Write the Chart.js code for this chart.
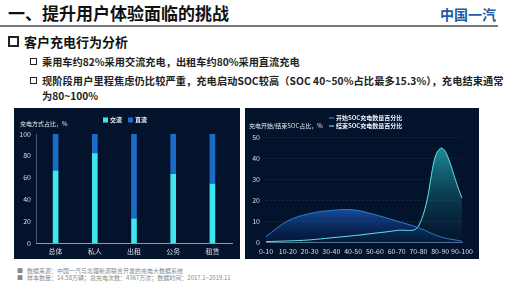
<!DOCTYPE html>
<html>
<head>
<meta charset="utf-8">
<script src="https://cdn.jsdelivr.net/npm/chart.js@4.4.1/dist/chart.umd.min.js"></script>
<style>
  body { margin: 0; width: 505px; height: 288px; background: #fff; position: relative; overflow: hidden;
         font-family: "Noto Sans CJK SC", "Noto Sans", sans-serif; }
  .abs { position: absolute; white-space: nowrap; line-height: 1; }
  .panel { position: absolute; background: #03132c; }
  .panel canvas { display: block; }
  .sq { position: absolute; border: 1.5px solid #222; box-sizing: border-box; }
</style>
</head>
<body>
<div class="abs" style="left:8px;top:4px;font-size:17px;font-weight:bold;color:#111;">一、提升用户体验面临的挑战</div>
<div class="abs" style="left:440px;top:7px;font-size:14px;font-weight:bold;color:#1d5ba8;">中国一汽</div>
<div style="position:absolute;left:0;top:25px;width:498px;height:1.5px;background:#7a7a7a;"></div>

<div class="sq" style="left:8px;top:36px;width:11px;height:11px;border-width:2px;"></div>
<div class="abs" style="left:24px;top:35px;font-size:13px;font-weight:bold;color:#111;">客户充电行为分析</div>

<div class="sq" style="left:30px;top:58px;width:7px;height:7px;"></div>
<div class="abs" style="left:42px;top:57px;font-size:10.2px;font-weight:bold;color:#222;">乘用车约82%采用交流充电，出租车约80%采用直流充电</div>
<div class="sq" style="left:30px;top:77px;width:7px;height:7px;"></div>
<div class="abs" style="left:42px;top:76px;font-size:10.2px;font-weight:bold;color:#222;letter-spacing:0.1px;">现阶段用户里程焦虑仍比较严重，充电启动SOC较高（SOC 40~50%占比最多15.3%），充电结束通常</div>
<div class="abs" style="left:42px;top:91px;font-size:10.2px;font-weight:bold;color:#222;">为80~100%</div>

<div class="panel" style="left:14px;top:108px;width:226px;height:151px;"><canvas id="chartLeft" width="226" height="151"></canvas></div>
<div class="panel" style="left:245px;top:108px;width:234px;height:151px;"><canvas id="chartRight" width="234" height="151"></canvas></div>

<div class="abs" style="left:17px;top:268px;font-size:6px;color:#888;">■&nbsp;&nbsp;&nbsp;数据来源：中国一汽与北理新源联合开发的充电大数据系统</div>
<div class="abs" style="left:17px;top:275px;font-size:6px;color:#888;">■&nbsp;&nbsp;&nbsp;样本数量：14.58万辆；总充电次数：4367万次；数据时间：2017.1~2019.11</div>

<script>
// left chart data - charging mode share
const userTypes = ['总体', '私人', '出租', '公务', '租赁'];
const acShare = [66, 82, 22, 63, 54];
const dcShare = [34, 18, 78, 37, 46];

// right chart data - SOC distribution
const socBins = ['0-10', '10-20', '20-30', '30-40', '40-50', '50-60', '60-70', '70-80', '80-90', '90-100'];
const startSoc = [2.6, 10, 13.5, 15, 15.3, 13, 10, 6.8, 2.5, 0.4];
const endSoc = [0.2, 0.5, 1, 2, 3, 4.2, 5.5, 7.5, 44.5, 21];

const tickColor = '#d8dee8';
const fontFam = '"Noto Sans CJK SC", "Noto Sans", sans-serif';

// draws axis name + legend at top of the panel
const headerPlugin = {
  id: 'header',
  afterDraw(chart, args, opts) {
    const ctx = chart.ctx;
    ctx.save();
    ctx.fillStyle = '#e6ebf2';
    ctx.font = '6px ' + fontFam;
    ctx.textBaseline = 'middle';
    ctx.textAlign = 'left';
    ctx.fillText(opts.yName, opts.yNameX, opts.yNameY);
    ctx.font = 'bold 6px ' + fontFam;
    opts.items.forEach((it) => {
      if (it.kind === 'box') {
        ctx.fillStyle = it.color;
        ctx.fillRect(it.x, it.y - 2.5, 5, 5);
      } else {
        ctx.strokeStyle = it.color;
        ctx.lineWidth = 1.2;
        ctx.beginPath();
        ctx.moveTo(it.x, it.y);
        ctx.lineTo(it.x + 5, it.y);
        ctx.stroke();
      }
      ctx.fillStyle = '#f0f3f8';
      ctx.fillText(it.text, it.x + 7, it.y);
    });
    ctx.restore();
  },
};

const leftChart = new Chart(document.getElementById('chartLeft'), {
  type: 'bar',
  data: {
    labels: userTypes,
    datasets: [
      { label: '交流', data: acShare, backgroundColor: '#3fe6f0', barThickness: 5 },
      { label: '直流', data: dcShare, backgroundColor: '#1a6cc6', barThickness: 5 },
    ],
  },
  options: {
    animation: false,
    responsive: false,
    devicePixelRatio: 1,
    layout: { padding: { top: 26, right: 8, left: 0, bottom: 0 } },
    scales: {
      x: {
        stacked: true,
        grid: { display: false, drawTicks: false },
        border: { color: '#8a9bb0' },
        ticks: { color: tickColor, font: { size: 7, family: fontFam }, padding: 4 },
        afterFit: (s) => { s.height = 16; },
      },
      y: {
        stacked: true,
        min: 0,
        max: 100,
        grid: { display: false, drawTicks: false },
        border: { color: 'rgba(140,155,176,0.5)' },
        ticks: { stepSize: 20, color: tickColor, font: { size: 7, family: fontFam }, padding: 5 },
        afterFit: (s) => { s.width = 22; },
      },
    },
    plugins: {
      legend: { display: false },
      tooltip: { enabled: false },
      header: {
        yName: '充电方式占比，%', yNameX: 6, yNameY: 16,
        items: [
          { kind: 'box', color: '#3fe6f0', text: '交流', x: 89, y: 12 },
          { kind: 'box', color: '#1a6cc6', text: '直流', x: 114, y: 12 },
        ],
      },
    },
  },
  plugins: [headerPlugin],
});

const vGrad = (ctx, top, bottom) => {
  const area = ctx.chart.chartArea;
  if (!area) return top;
  const g = ctx.chart.ctx.createLinearGradient(0, area.top, 0, area.bottom);
  g.addColorStop(0, top);
  g.addColorStop(1, bottom);
  return g;
};

const rightChart = new Chart(document.getElementById('chartRight'), {
  type: 'line',
  data: {
    labels: socBins,
    datasets: [
      {
        label: '开始SOC充电数量百分比',
        data: startSoc,
        borderColor: '#2f7fd6',
        borderWidth: 1,
        fill: 'origin',
        backgroundColor: (c) => {
          const area = c.chart.chartArea;
          if (!area) return '#1c5fb0';
          const g = c.chart.ctx.createLinearGradient(0, area.top + (area.bottom - area.top) * 0.65, 0, area.bottom);
          g.addColorStop(0, 'rgba(30,100,200,0.85)');
          g.addColorStop(1, 'rgba(10,40,100,0.25)');
          return g;
        },
        tension: 0.4,
        pointRadius: 0,
        order: 2,
      },
      {
        label: '结束SOC充电数量百分比',
        data: endSoc,
        borderColor: '#62e2e6',
        borderWidth: 1,
        fill: 'origin',
        backgroundColor: (c) => vGrad(c, 'rgba(40,190,195,0.85)', 'rgba(10,60,80,0.1)'),
        tension: 0.4,
        pointRadius: 0,
        order: 1,
      },
    ],
  },
  options: {
    animation: false,
    responsive: false,
    devicePixelRatio: 1,
    layout: { padding: { top: 29, right: 17, left: 0, bottom: 0 } },
    scales: {
      x: {
        offset: false,
        grid: { display: false, drawTicks: false },
        border: { color: '#5a7090' },
        ticks: { color: tickColor, font: { size: 7, family: fontFam }, padding: 5, maxRotation: 0, autoSkip: false },
        afterFit: (s) => { s.height = 17; },
      },
      y: {
        min: 0,
        max: 50,
        grid: { color: 'rgba(255,255,255,0.09)', drawTicks: false },
        border: { display: false, dash: [2, 2] },
        ticks: { stepSize: 10, color: tickColor, font: { size: 7, family: fontFam }, padding: 6 },
        afterFit: (s) => { s.width = 21; },
      },
    },
    plugins: {
      legend: { display: false },
      tooltip: { enabled: false },
      header: {
        yName: '充电开始/结束SOC占比，%', yNameX: 4, yNameY: 18,
        items: [
          { kind: 'line', color: '#2f7fd6', text: '开始SOC充电数量百分比', x: 84, y: 10 },
          { kind: 'line', color: '#62e2e6', text: '结束SOC充电数量百分比', x: 84, y: 18 },
        ],
      },
    },
  },
  plugins: [headerPlugin],
});
</script>
</body>
</html>
